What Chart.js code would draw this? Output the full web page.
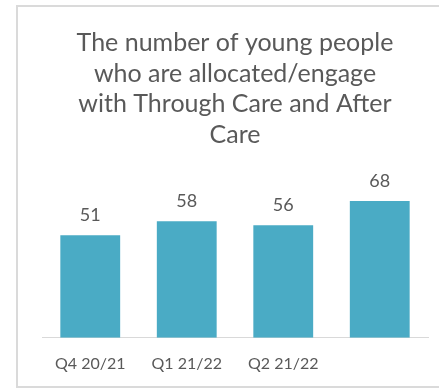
<!DOCTYPE html>
<html>
<head>
<meta charset="utf-8">
<script src="https://cdn.jsdelivr.net/npm/chart.js@4/dist/chart.umd.min.js"></script>
<style>
    html, body { margin: 0; padding: 0; background: #fff; overflow: hidden; }
    #frame {
        position: absolute; left: 16px; top: 5px;
        width: 440px; height: 379px;
        border: 2px solid #dadada;
    }
    #wrap { position: absolute; left: 0; top: 0; width: 439px; height: 389px; }
</style>
</head>
<body>
<div id="frame"></div>
<div id="wrap"><canvas id="chart" width="439" height="389"></canvas></div>
<script>
// Chart data
const quarters = ['Q4 20/21', 'Q1 21/22', 'Q2 21/22', ''];
const youngPeople = [51, 58, 56, 68];
const chartTitle = ['The number of young people', 'who are allocated/engage', 'with Through Care and After', 'Care'];

// Draws the value above each bar
const valueLabels = {
    id: 'valueLabels',
    afterDatasetsDraw(chart) {
        const ctx = chart.ctx;
        ctx.save();
        ctx.font = '18px Lato';
        ctx.fillStyle = '#595959';
        ctx.textAlign = 'center';
        ctx.textBaseline = 'middle';
        chart.getDatasetMeta(0).data.forEach((bar, i) => {
            ctx.fillText(youngPeople[i], bar.x, bar.y - 20);
        });
        ctx.restore();
    }
};

new Chart(document.getElementById('chart'), {
    type: 'bar',
    data: {
        labels: quarters,
        datasets: [{
            data: youngPeople,
            backgroundColor: '#4aabc5',
            categoryPercentage: 1,
            barPercentage: 0.62
        }]
    },
    options: {
        responsive: false,
        animation: false,
        layout: { padding: { left: 42, right: 11, top: 0, bottom: 0 } },
        plugins: {
            legend: { display: false },
            tooltip: { enabled: false },
            title: {
                display: true,
                text: chartTitle,
                color: '#595959',
                font: { family: 'Lato', size: 25, weight: 'normal', lineHeight: 1.22 },
                padding: { top: 28, bottom: 27 }
            }
        },
        scales: {
            x: {
                grid: { display: false, drawTicks: false },
                border: { color: '#d9d9d9', width: 1 },
                ticks: { color: '#595959', font: { family: 'Lato', size: 16 }, padding: 16 }
            },
            y: {
                display: false,
                min: 0,
                max: 80
            }
        }
    },
    plugins: [valueLabels]
});
</script>
</body>
</html>
